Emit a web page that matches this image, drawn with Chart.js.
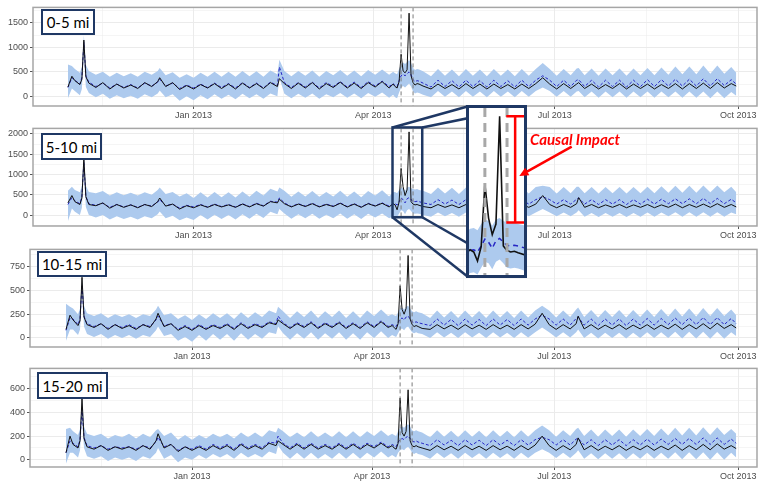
<!DOCTYPE html>
<html>
<head>
<meta charset="utf-8">
<script src="https://cdn.jsdelivr.net/npm/chart.js@4.4.1/dist/chart.umd.min.js"></script>
<style>
  body { margin: 0; background: #fff; width: 759px; height: 485px; position: relative; overflow: hidden; }
  canvas.panel { position: absolute; left: 0; }
  .tag { position: absolute; background: #fff; border: 2.5px solid #1f3864; box-sizing: border-box;
         font: 15px Lato, sans-serif; color: #000; display: flex; align-items: center; justify-content: center; z-index: 5; }
  #inset { position: absolute; left: 466px; top: 105px; width: 61px; height: 173px; border: 3px solid #1f3864;
           box-sizing: border-box; background: #fff; z-index: 4; }
  #inset canvas { position: absolute; left: 0; top: 0; }
  #overlay, #notes { position: absolute; left: 0; top: 0; }
  #overlay { z-index: 3; }
  #notes { z-index: 6; }
  .impact { position: absolute; left: 530px; top: 131px; color: #f00; font: italic bold 15px Lato, sans-serif;
            line-height: 16px; z-index: 6; white-space: nowrap; }
</style>
</head>
<body>
<canvas class="panel" id="p1"></canvas>
<canvas class="panel" id="p2"></canvas>
<canvas class="panel" id="p3"></canvas>
<canvas class="panel" id="p4"></canvas>
<div id="inset"><canvas id="zoom" width="55" height="167"></canvas></div>
<div class="impact">Causal Impact</div>
<script>
// days counted from 1 Jan 2013
const days = [
  -63, -61, -59.5, -57, -56, -55, -54, -52.5, -49, -45.5, -42, -38.5, -35, -31.5, -28, -24.5, -21, -18, -17, -14, -10.5, -7, -3.5,
  0, 3.5, 7, 10.5, 14, 17.5, 21, 24.5, 28, 31.5, 35, 38.5, 42, 43, 45.5, 49, 52.5, 56, 59.5, 63, 66.5, 70, 73.5, 77, 80.5, 84, 87.5, 91, 94.5, 98,
  100, 101, 102, 103, 104, 105, 106, 107, 108, 109, 110, 111, 112, 113, 115,
  119, 122.5, 126, 129.5, 133, 136.5, 140, 143.5, 147, 150.5, 154, 157.5, 161, 164.5, 168, 171.5, 175, 178.5, 182, 185.5, 189, 192, 193,
  196, 199.5, 203, 206.5, 210, 213.5, 217, 220.5, 224, 227.5, 231, 234.5, 238, 241.5, 245, 248.5, 252, 255.5, 259, 262.5, 266, 269.5, 272
];
const xTickDays = [0, 90, 181, 273];
const xTickLabels = ['Jan 2013', 'Apr 2013', 'Jul 2013', 'Oct 2013'];
const xMinorDays = [-45.5, 45, 135.5, 227];
const interventionDays = [104, 110];
const panelNames = ['0-5 mi', '5-10 mi', '10-15 mi', '15-20 mi'];

// 0-5 mi
const obs1 = [
  190, 410, 320, 240, 350, 1150, 400, 270, 180, 280, 150, 250, 170, 230, 160, 280, 200, 300, 380, 200, 280, 140, 220,
  150, 240, 170, 260, 160, 250, 150, 270, 170, 260, 160, 280, 200, 360, 260, 160, 270, 170, 280, 150, 260, 180, 290, 170, 270, 160, 280, 190, 300, 170,
  250, 200, 170, 300, 860, 520, 480, 540, 1700, 420, 280, 230, 260, 250, 210,
  150, 250, 160, 240, 150, 260, 160, 250, 150, 250, 160, 240, 150, 250, 160, 260, 380, 250, 150, 260, 160, 250, 280,
  160, 250, 150, 240, 160, 260, 150, 250, 160, 250, 150, 240, 160, 260, 150, 260, 160, 270, 160, 280, 170, 260, 210
];
const pred1 = [
  180, 380, 330, 250, 380, 1100, 420, 290, 200, 270, 170, 250, 180, 240, 170, 270, 210, 290, 350, 210, 270, 160, 230,
  170, 250, 180, 270, 180, 260, 170, 280, 180, 270, 170, 290, 220, 600, 280, 180, 280, 190, 290, 170, 280, 200, 300, 190, 290, 180, 300, 210, 310, 200,
  260, 220, 200, 320, 420, 450, 420, 460, 500, 440, 340, 300, 320, 310, 270,
  190, 330, 200, 320, 190, 330, 200, 320, 190, 330, 200, 320, 190, 330, 200, 330, 420, 330, 200, 330, 200, 330, 340,
  200, 330, 190, 330, 200, 330, 190, 330, 200, 340, 200, 340, 210, 350, 210, 350, 210, 360, 210, 360, 220, 340, 250
];
const hi1 = [
  650, 620, 560, 480, 600, 1250, 640, 520, 440, 500, 400, 480, 410, 470, 400, 500, 440, 520, 580, 430, 490, 380, 450,
  380, 480, 400, 500, 400, 500, 400, 520, 410, 510, 400, 530, 450, 750, 520, 410, 520, 420, 530, 400, 520, 430, 540, 420, 530, 410, 540, 440, 550, 440,
  500, 470, 450, 560, 660, 690, 660, 700, 740, 680, 580, 540, 560, 550, 510,
  410, 560, 420, 550, 410, 560, 420, 550, 410, 560, 420, 550, 410, 560, 420, 560, 680, 560, 420, 560, 430, 570, 580,
  430, 570, 420, 570, 430, 570, 420, 570, 430, 580, 430, 590, 440, 610, 450, 610, 450, 630, 460, 630, 460, 600, 480
];
const lo1 = [
  -40, 160, 110, 20, 150, 900, 190, 70, -20, 50, -50, 20, -40, 10, -50, 40, -20, 60, 120, -20, 40, -90, 0,
  -80, 20, -60, 40, -50, 30, -60, 50, -40, 40, -50, 60, 0, 380, 50, -40, 50, -30, 60, -50, 40, -20, 70, -30, 60, -40, 70, -10, 80, -30,
  30, -20, -40, 80, 180, 210, 180, 220, 260, 200, 100, 60, 80, 70, 30,
  -20, 110, -10, 100, -20, 110, -10, 100, -20, 110, -10, 100, -20, 110, -10, 110, 180, 110, -10, 110, -10, 100, 110,
  -20, 100, -30, 100, -20, 100, -30, 100, -20, 100, -30, 100, -20, 100, -30, 100, -30, 100, -40, 100, -40, 90, 10
];

// 5-10 mi
const obs2 = [
  300, 480, 330, 260, 420, 1400, 450, 260, 230, 300, 170, 260, 190, 250, 180, 260, 210, 330, 420, 220, 270, 150, 230,
  180, 250, 190, 260, 200, 250, 190, 270, 200, 280, 220, 330, 300, 390, 280, 200, 270, 210, 280, 200, 260, 210, 290, 200, 270, 190, 280, 220, 290, 200,
  280, 250, 130, 320, 1150, 700, 480, 620, 2050, 330, 270, 250, 260, 240, 210,
  180, 260, 190, 250, 180, 260, 190, 250, 180, 260, 190, 250, 180, 260, 190, 270, 480, 260, 180, 260, 190, 280, 430,
  190, 260, 180, 250, 190, 260, 180, 250, 190, 260, 180, 250, 190, 270, 180, 260, 190, 270, 190, 280, 190, 260, 200
];
const pred2 = [
  260, 430, 350, 280, 450, 1300, 460, 280, 240, 290, 190, 260, 200, 250, 190, 260, 220, 320, 380, 230, 270, 170, 240,
  200, 260, 200, 270, 210, 260, 200, 280, 210, 290, 230, 340, 320, 420, 300, 210, 280, 220, 290, 210, 270, 220, 300, 210, 280, 200, 290, 230, 300, 220,
  270, 280, 250, 330, 420, 380, 300, 400, 430, 380, 340, 330, 340, 330, 300,
  260, 380, 270, 370, 260, 380, 270, 370, 260, 380, 270, 370, 260, 380, 270, 380, 450, 380, 270, 380, 270, 390, 420,
  270, 380, 260, 380, 270, 380, 260, 380, 270, 390, 270, 390, 280, 400, 280, 400, 280, 410, 280, 410, 280, 390, 300
];
const hi2 = [
  600, 700, 620, 560, 720, 1500, 720, 570, 540, 590, 480, 560, 490, 550, 480, 560, 500, 620, 680, 520, 570, 460, 540,
  420, 560, 430, 570, 440, 560, 430, 580, 450, 600, 480, 650, 580, 680, 600, 450, 580, 460, 590, 450, 570, 460, 600, 450, 580, 440, 590, 480, 610, 460,
  560, 570, 540, 620, 680, 660, 600, 680, 700, 660, 640, 630, 640, 620, 600,
  520, 680, 530, 670, 520, 680, 530, 670, 520, 680, 530, 670, 520, 680, 530, 690, 720, 690, 530, 690, 540, 700, 700,
  540, 690, 530, 690, 540, 690, 530, 690, 540, 700, 540, 710, 550, 720, 550, 720, 550, 730, 560, 730, 560, 700, 560
];
const lo2 = [
  -150, 160, 80, 0, 180, 1100, 200, 0, -60, 0, -110, -30, -100, -40, -110, -30, -80, 20, 90, -80, -20, -130, -60,
  -120, 0, -110, 10, -100, 0, -110, 20, -90, 30, -70, 80, 20, 150, 40, -90, 20, -80, 30, -90, 10, -80, 40, -90, 20, -100, 30, -60, 40, -80,
  -30, -20, -50, 40, 120, 100, 20, 120, 150, 100, 40, 30, 40, 30, 0,
  -40, 60, -30, 50, -40, 60, -30, 50, -40, 60, -30, 50, -40, 60, -30, 60, 150, 60, -30, 60, -30, 60, 120,
  -40, 50, -50, 50, -40, 50, -50, 50, -40, 60, -40, 60, -30, 70, -40, 70, -40, 70, -40, 70, -40, 60, 20
];

// 10-15 mi
const obs3 = [
  90, 240, 190, 130, 180, 640, 220, 140, 110, 150, 90, 140, 100, 130, 90, 140, 110, 200, 260, 120, 150, 80, 120,
  80, 130, 90, 130, 100, 140, 90, 150, 100, 140, 110, 160, 140, 190, 150, 100, 150, 110, 160, 100, 150, 110, 160, 100, 150, 100, 160, 110, 170, 110,
  130, 110, 90, 150, 550, 300, 250, 310, 870, 200, 140, 120, 130, 120, 100,
  90, 140, 95, 135, 90, 140, 95, 135, 90, 140, 95, 135, 90, 140, 95, 145, 260, 140, 90, 140, 95, 150, 230,
  95, 140, 90, 135, 95, 140, 90, 135, 95, 140, 90, 135, 95, 145, 90, 140, 95, 150, 95, 155, 100, 140, 105
];
const pred3 = [
  80, 210, 200, 140, 200, 560, 230, 150, 120, 150, 100, 140, 110, 140, 100, 140, 120, 190, 230, 130, 150, 90, 130,
  90, 140, 100, 140, 110, 150, 100, 160, 110, 150, 120, 170, 150, 230, 160, 110, 160, 120, 170, 110, 160, 120, 170, 110, 160, 110, 170, 120, 180, 120,
  140, 130, 120, 160, 200, 210, 190, 220, 230, 200, 170, 160, 170, 160, 150,
  130, 200, 135, 195, 130, 200, 135, 195, 130, 200, 135, 195, 130, 200, 135, 200, 240, 200, 135, 200, 135, 205, 220,
  135, 200, 130, 200, 135, 200, 130, 200, 135, 205, 135, 205, 140, 210, 140, 210, 140, 215, 140, 215, 140, 205, 150
];
const hi3 = [
  360, 330, 310, 250, 310, 650, 340, 260, 230, 260, 210, 250, 220, 250, 210, 250, 230, 300, 340, 240, 260, 200, 240,
  190, 250, 200, 260, 210, 260, 200, 270, 210, 270, 220, 290, 260, 330, 280, 210, 280, 220, 290, 210, 280, 220, 290, 210, 280, 210, 290, 230, 300, 230,
  250, 240, 230, 270, 310, 320, 300, 330, 340, 310, 280, 270, 280, 270, 260,
  210, 290, 215, 285, 210, 290, 215, 285, 210, 290, 215, 285, 210, 290, 215, 290, 340, 290, 215, 290, 220, 300, 320,
  220, 295, 215, 295, 220, 295, 215, 295, 220, 300, 220, 305, 225, 310, 225, 310, 225, 315, 230, 315, 230, 300, 240
];
const lo3 = [
  -30, 90, 90, 30, 90, 470, 120, 40, 10, 40, -10, 30, 0, 30, -10, 30, 10, 80, 120, 20, 40, -30, 10,
  -40, 30, -30, 40, -20, 40, -30, 50, -20, 40, -10, 60, 40, 120, 50, -20, 50, -10, 60, -20, 50, -10, 60, -20, 50, -20, 60, 0, 70, 0,
  30, 20, 10, 50, 90, 100, 80, 110, 120, 90, 60, 50, 60, 50, 40,
  0, 60, 5, 55, 0, 60, 5, 55, 0, 60, 5, 55, 0, 60, 5, 60, 110, 60, 5, 60, 5, 60, 90,
  0, 55, -5, 55, 0, 55, -5, 55, 0, 60, 0, 60, 0, 65, -5, 65, -5, 65, -10, 65, -10, 60, 20
];

// 15-20 mi
const obs4 = [
  60, 200, 130, 100, 160, 520, 180, 110, 90, 120, 80, 110, 90, 110, 80, 120, 90, 160, 220, 100, 130, 70, 110,
  80, 110, 80, 120, 90, 120, 80, 130, 90, 120, 90, 140, 120, 160, 130, 90, 130, 90, 130, 90, 120, 90, 130, 90, 130, 90, 130, 100, 140, 100,
  120, 100, 90, 140, 520, 230, 200, 240, 590, 160, 120, 110, 120, 110, 100,
  80, 120, 85, 115, 80, 120, 85, 115, 80, 120, 85, 115, 80, 120, 85, 125, 200, 120, 80, 120, 85, 130, 185,
  85, 120, 80, 115, 85, 120, 80, 115, 85, 120, 80, 115, 85, 125, 80, 120, 85, 130, 85, 135, 90, 120, 95
];
const pred4 = [
  60, 160, 140, 110, 170, 430, 190, 120, 100, 120, 90, 110, 100, 110, 90, 120, 100, 150, 190, 110, 130, 80, 110,
  90, 120, 90, 130, 100, 130, 90, 140, 100, 130, 100, 150, 140, 200, 140, 100, 140, 100, 140, 100, 130, 100, 140, 100, 140, 100, 140, 110, 150, 110,
  130, 120, 110, 150, 170, 180, 170, 190, 200, 180, 160, 150, 160, 150, 140,
  120, 170, 125, 165, 120, 170, 125, 165, 120, 170, 125, 165, 120, 170, 125, 170, 190, 170, 125, 170, 125, 175, 180,
  125, 170, 120, 170, 125, 170, 120, 170, 125, 175, 125, 175, 130, 180, 130, 180, 130, 185, 130, 185, 130, 175, 140
];
const hi4 = [
  260, 270, 240, 210, 260, 520, 280, 220, 200, 220, 180, 210, 190, 220, 180, 220, 190, 250, 260, 200, 230, 170, 210,
  170, 210, 180, 220, 190, 220, 180, 230, 190, 230, 190, 250, 230, 270, 240, 190, 230, 190, 240, 190, 230, 190, 240, 190, 240, 190, 240, 200, 250, 200,
  220, 210, 200, 240, 270, 280, 270, 290, 300, 280, 250, 240, 250, 240, 230,
  190, 250, 195, 245, 190, 250, 195, 245, 190, 250, 195, 245, 190, 250, 195, 250, 290, 250, 195, 250, 200, 260, 270,
  200, 255, 195, 255, 200, 255, 195, 255, 200, 260, 200, 265, 205, 270, 205, 270, 205, 275, 210, 275, 210, 260, 220
];
const lo4 = [
  -30, 60, 60, 20, 80, 350, 100, 30, 10, 30, -10, 20, 0, 20, -10, 30, 10, 60, 100, 10, 40, -20, 20,
  0, 40, 10, 50, 20, 50, 10, 60, 20, 50, 20, 70, 50, 120, 60, 10, 60, 10, 60, 10, 50, 10, 60, 10, 60, 10, 60, 20, 70, 20,
  40, 30, 20, 60, 80, 90, 80, 100, 110, 90, 60, 50, 60, 50, 40,
  10, 60, 15, 55, 10, 60, 15, 55, 10, 60, 15, 55, 10, 60, 15, 60, 90, 60, 15, 60, 15, 60, 80,
  10, 55, 5, 55, 10, 55, 5, 55, 10, 60, 10, 60, 10, 65, 5, 65, 5, 65, 0, 65, 0, 60, 20
];

const series = [
  { obs: obs1, pred: pred1, hi: hi1, lo: lo1 },
  { obs: obs2, pred: pred2, hi: hi2, lo: lo2 },
  { obs: obs3, pred: pred3, hi: hi3, lo: lo3 },
  { obs: obs4, pred: pred4, hi: hi4, lo: lo4 }
];

// zoomed window of the 5-10 mi panel shown in the inset
const insetWindow = { x0: 99.7, x1: 114.6, y0: -55, y1: 2160 };
const bracketDay = 112.2;
const bracketFrom = 109.8;

const layouts = [
  { top: 4,   bottom: 106, left: 33, xMin: -80.5, yMin: -198, yMax: 1818, major: 500, minor: 250, tag: [41, 9, 54, 26] },
  { top: 125, bottom: 226, left: 33, xMin: -80.5, yMin: -270, yMax: 2136, major: 500, minor: 250, tag: [41, 133, 61, 27] },
  { top: 246, bottom: 347, left: 30, xMin: -81,   yMin: -96,  yMax: 934,  major: 250, minor: 125, tag: [37, 251, 70, 26] },
  { top: 365, bottom: 467, left: 30, xMin: -81,   yMin: -60,  yMax: 770,  major: 200, minor: 100, tag: [37, 372, 71, 27] }
];
const xMax = 282.4;
const AXIS_H = 16;

Chart.defaults.font.family = "'Liberation Sans', Arial, sans-serif";

const toPoints = (ys) => days.map((d, i) => ({ x: d, y: ys[i] }));

const bandColor = '#adcaee';

function makeDatasets(s, big) {
  return [
    { data: toPoints(s.obs), borderColor: '#111', borderWidth: big ? 1.6 : 1, pointRadius: 0, tension: 0, fill: false },
    { data: toPoints(s.pred), borderColor: '#2626c4', borderWidth: big ? 1.5 : 1, borderDash: big ? [5, 4] : [3, 2], pointRadius: 0, tension: 0, fill: false },
    { data: toPoints(s.hi), borderColor: 'transparent', borderWidth: 0, pointRadius: 0, tension: 0, fill: '+1', backgroundColor: bandColor },
    { data: toPoints(s.lo), borderColor: 'transparent', borderWidth: 0, pointRadius: 0, tension: 0, fill: false }
  ];
}

const decor = {
  id: 'decor',
  afterDatasetsDraw(chart, args, opts) {
    const { ctx, chartArea: a, scales: { x } } = chart;
    ctx.save();
    ctx.strokeStyle = opts.vColor;
    ctx.lineWidth = opts.vWidth;
    ctx.setLineDash(opts.vDash);
    interventionDays.forEach(d => {
      const px = x.getPixelForValue(d);
      ctx.beginPath();
      ctx.moveTo(px, a.top);
      ctx.lineTo(px, a.bottom);
      ctx.stroke();
    });
    ctx.restore();
    if (opts.frame) {
      ctx.save();
      ctx.strokeStyle = '#a6a6a6';
      ctx.lineWidth = 1.5;
      ctx.strokeRect(a.left, a.top, a.right - a.left, a.bottom - a.top);
      ctx.restore();
    }
  }
};

const charts = layouts.map((L, i) => {
  const cv = document.getElementById('p' + (i + 1));
  const h = L.bottom - L.top + 4 + AXIS_H;
  cv.width = 759;
  cv.height = h;
  cv.style.top = (L.top - 4) + 'px';

  const yTicks = [];
  for (let v = Math.ceil(L.yMin / L.minor) * L.minor; v <= L.yMax; v += L.minor) yTicks.push(v);
  const xAll = [...xMinorDays, ...xTickDays].sort((a, b) => a - b);
  const isMajorY = (v) => v % L.major === 0;
  const isMajorX = (v) => xTickDays.includes(v);

  return new Chart(cv, {
    type: 'line',
    data: { datasets: makeDatasets(series[i], false) },
    options: {
      animation: false,
      responsive: false,
      devicePixelRatio: 1,
      layout: { padding: { top: 4, right: 2, left: 0, bottom: 0 } },
      plugins: {
        legend: { display: false },
        tooltip: { enabled: false },
        decor: { vColor: '#7a7a7a', vWidth: 1, vDash: [4, 3], frame: true }
      },
      scales: {
        x: {
          type: 'linear', min: L.xMin, max: xMax,
          afterBuildTicks: (s) => { s.ticks = xAll.map(v => ({ value: v })); },
          afterFit: (s) => { s.height = AXIS_H; },
          border: { display: false },
          grid: {
            color: '#ebebeb',
            lineWidth: (c) => (c.tick && isMajorX(c.tick.value)) ? 1 : 0.5,
            tickLength: 3,
            tickColor: (c) => (c.tick && isMajorX(c.tick.value)) ? '#555' : 'rgba(0,0,0,0)'
          },
          ticks: {
            autoSkip: false, maxRotation: 0, padding: 1, color: '#4d4d4d', font: { size: 9 },
            callback: (v) => { const k = xTickDays.indexOf(v); return k >= 0 ? xTickLabels[k] : ''; }
          }
        },
        y: {
          min: L.yMin, max: L.yMax,
          afterBuildTicks: (s) => { s.ticks = yTicks.map(v => ({ value: v })); },
          afterFit: (s) => { s.width = L.left; },
          border: { display: false },
          grid: {
            color: '#ebebeb',
            lineWidth: (c) => (c.tick && isMajorY(c.tick.value)) ? 1 : 0.5,
            tickLength: 3,
            tickColor: (c) => (c.tick && isMajorY(c.tick.value)) ? '#555' : 'rgba(0,0,0,0)'
          },
          ticks: {
            autoSkip: false, padding: 2, color: '#4d4d4d', font: { size: 9 },
            callback: (v) => isMajorY(v) ? String(v) : ''
          }
        }
      }
    },
    plugins: [decor]
  });
});

// panel tags
layouts.forEach((L, i) => {
  const d = document.createElement('div');
  d.className = 'tag';
  d.textContent = panelNames[i];
  d.style.left = L.tag[0] + 'px';
  d.style.top = L.tag[1] + 'px';
  d.style.width = L.tag[2] + 'px';
  d.style.height = L.tag[3] + 'px';
  document.body.appendChild(d);
});

// inset: zoom on the 5-10 mi panel
const bracket = {
  id: 'bracket',
  afterDraw(chart) {
    const { ctx, chartArea: a, scales: { x, y } } = chart;
    const top = y.getPixelForValue(Math.max(...obs2));
    const bot = y.getPixelForValue(hi2[days.indexOf(110)]);
    const xm = x.getPixelForValue(bracketDay);
    const xa = x.getPixelForValue(bracketFrom);
    ctx.save();
    ctx.strokeStyle = '#ff0000';
    ctx.lineWidth = 2.5;
    ctx.beginPath();
    ctx.moveTo(xm, top); ctx.lineTo(xm, bot);
    ctx.moveTo(xa, top); ctx.lineTo(a.right, top);
    ctx.moveTo(xa, bot); ctx.lineTo(a.right, bot);
    ctx.stroke();
    ctx.restore();
  }
};

new Chart(document.getElementById('zoom'), {
  type: 'line',
  data: { datasets: makeDatasets(series[1], true) },
  options: {
    animation: false,
    responsive: false,
    devicePixelRatio: 1,
    layout: { padding: 0 },
    plugins: {
      legend: { display: false },
      tooltip: { enabled: false },
      decor: { vColor: '#a8a8a8', vWidth: 3, vDash: [9, 6], frame: false }
    },
    scales: {
      x: { type: 'linear', display: false, min: insetWindow.x0, max: insetWindow.x1 },
      y: { display: false, min: insetWindow.y0, max: insetWindow.y1 }
    }
  },
  plugins: [decor, bracket]
});

// zoom box on panel 2, its connector lines and the arrow
(function () {
  const c2 = charts[1];
  const off = layouts[1].top - 4;
  const sx0 = c2.scales.x.getPixelForValue(insetWindow.x0);
  const sx1 = c2.scales.x.getPixelForValue(insetWindow.x1);
  const sy0 = off + c2.scales.y.getPixelForValue(insetWindow.y1);
  const sy1 = off + c2.scales.y.getPixelForValue(insetWindow.y0);
  const box = document.getElementById('inset');
  const bx0 = box.offsetLeft + 1.5, by0 = box.offsetTop + 1.5;
  const bx1 = box.offsetLeft + box.offsetWidth - 1.5, by1 = box.offsetTop + box.offsetHeight - 1.5;
  const navy = '#1f3864';
  const ln = (x1, y1, x2, y2) => `<line x1="${x1}" y1="${y1}" x2="${x2}" y2="${y2}" stroke="${navy}" stroke-width="2.5"/>`;
  const svg = `<svg id="overlay" width="759" height="485" xmlns="http://www.w3.org/2000/svg">
    ${ln(sx0, sy0, bx0, by0)}${ln(sx1, sy0, bx1, by0)}${ln(sx0, sy1, bx0, by1)}${ln(sx1, sy1, bx1, by1)}
    <rect x="${sx0}" y="${sy0}" width="${sx1 - sx0}" height="${sy1 - sy0}" fill="none" stroke="${navy}" stroke-width="2.5"/>
  </svg>
  <svg id="notes" width="759" height="485" xmlns="http://www.w3.org/2000/svg">
    <line x1="571.7" y1="146.7" x2="527" y2="171.6" stroke="#ff0000" stroke-width="2.5"/>
    <polygon points="519.3,176 529.3,175.3 525.2,167.8" fill="#ff0000"/>
  </svg>`;
  document.body.insertAdjacentHTML('beforeend', svg);
})();
</script>
</body>
</html>
